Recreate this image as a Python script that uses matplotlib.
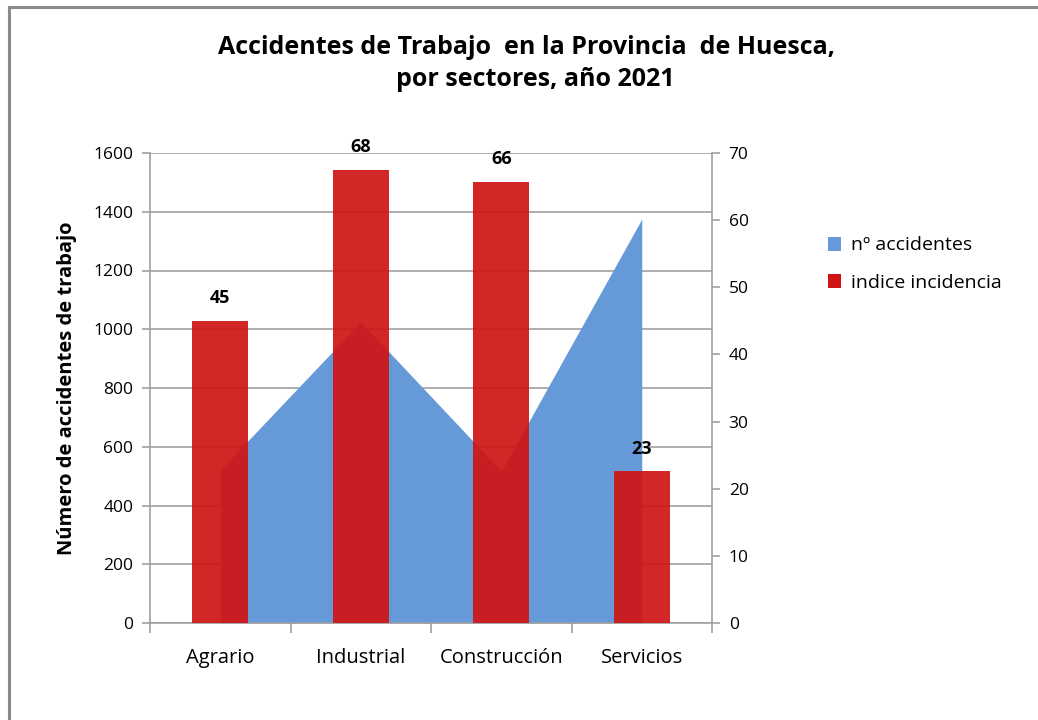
import matplotlib
matplotlib.use("Agg")
import matplotlib.pyplot as plt
from matplotlib.patches import Rectangle, Patch
from matplotlib import font_manager

names = {f.name for f in font_manager.fontManager.ttflist}
title_font = "Liberation Sans Narrow" if "Liberation Sans Narrow" in names else "Open Sans"
base_font = "Open Sans"
plt.rcParams['font.family'] = [base_font, 'DejaVu Sans']

categories = ["Agrario", "Industrial", "Construcción", "Servicios"]
n_accidentes = [521, 1025, 517, 1375]
indice_incidencia = [45.0, 67.5, 65.7, 22.6]
left_ticks = list(range(0, 1601, 200))
right_ticks = list(range(0, 71, 10))

W, H = 1038, 720
fig = plt.figure(figsize=(W / 100, H / 100), dpi=100)
fig.patch.set_facecolor("white")

# outer border
fig.patches.append(Rectangle((9 / W, -0.1), 1.2, 1 - 7 / H + 0.1, transform=fig.transFigure,
                             fill=False, edgecolor="#8a8a8a", linewidth=2.2, zorder=0))

ax = fig.add_axes([150 / W, 1 - 623 / H, (712 - 150) / W, (623 - 153) / H])
ax2 = ax.twinx()

x = list(range(len(categories)))
ax.fill_between(x, 0, n_accidentes, color="#6699D8", linewidth=0, zorder=2)
ax.set_ylim(0, 1600)
ax.set_xlim(-0.5, len(categories) - 0.5)
ax.set_yticks(left_ticks)
ax.grid(axis="y", color="#a0a0a0", linewidth=1.2, zorder=1)
ax.set_axisbelow(True)

bars = ax2.bar(x, indice_incidencia, width=0.4, color="#D01414", alpha=0.92, linewidth=0, zorder=3)
ax2.set_ylim(0, 70)
ax2.set_yticks(right_ticks)
for xi, v in zip(x, indice_incidencia):
    ax2.text(xi, v + 2.0, f"{v:.0f}", ha="center", va="bottom", fontsize=13,
             fontweight="bold", color="black")

# x ticks at boundaries, labels at centers
ax.set_xticks([i - 0.5 for i in range(len(categories) + 1)])
ax.set_xticklabels([])
ax.set_xticks(x, minor=True)
ax.set_xticklabels(categories, minor=True, fontsize=14.5)
ax.tick_params(axis="x", which="minor", length=0, pad=18)
ax.tick_params(axis="x", which="major", length=7, color="#a0a0a0", width=1.2)
ax.tick_params(axis="y", length=6, color="#a0a0a0", width=1.2, labelsize=12.5, pad=6, direction="out")
ax2.tick_params(axis="y", length=6, color="#a0a0a0", width=1.2, labelsize=12.5, pad=6)

for a in (ax, ax2):
    a.spines["top"].set_visible(False)
ax2.spines["left"].set_visible(False)
ax2.spines["bottom"].set_visible(False)
ax.spines["right"].set_visible(False)
ax.spines["left"].set_color("#a0a0a0")
ax.spines["bottom"].set_color("#a0a0a0")
ax2.spines["right"].set_color("#a0a0a0")
for s in ("left", "bottom"):
    ax.spines[s].set_linewidth(1.2)
ax2.spines["right"].set_linewidth(1.2)

ax.set_ylabel("Número de accidentes de trabajo", fontsize=14.5, fontweight="bold", labelpad=12)

fig.text(527 / W, 1 - 47 / H, "Accidentes de Trabajo  en la Provincia  de Huesca,",
         ha="center", va="center", fontsize=18, fontweight="bold", family=[title_font, 'DejaVu Sans'])
fig.text(535 / W, 1 - 80 / H, "por sectores, año 2021",
         ha="center", va="center", fontsize=18, fontweight="bold", family=[title_font, 'DejaVu Sans'])

handles = [Patch(facecolor="#6699D8", edgecolor="none"),
           Patch(facecolor="#D01414", edgecolor="none")]
fig.legend(handles, ["nº accidentes", "indice incidencia"], loc="upper left",
           bbox_to_anchor=(810 / W, 1 - 219 / H), frameon=False, fontsize=14,
           handlelength=0.7, handleheight=0.7, handletextpad=0.5, labelspacing=1.0)

fig.savefig("out.png", dpi=100)
